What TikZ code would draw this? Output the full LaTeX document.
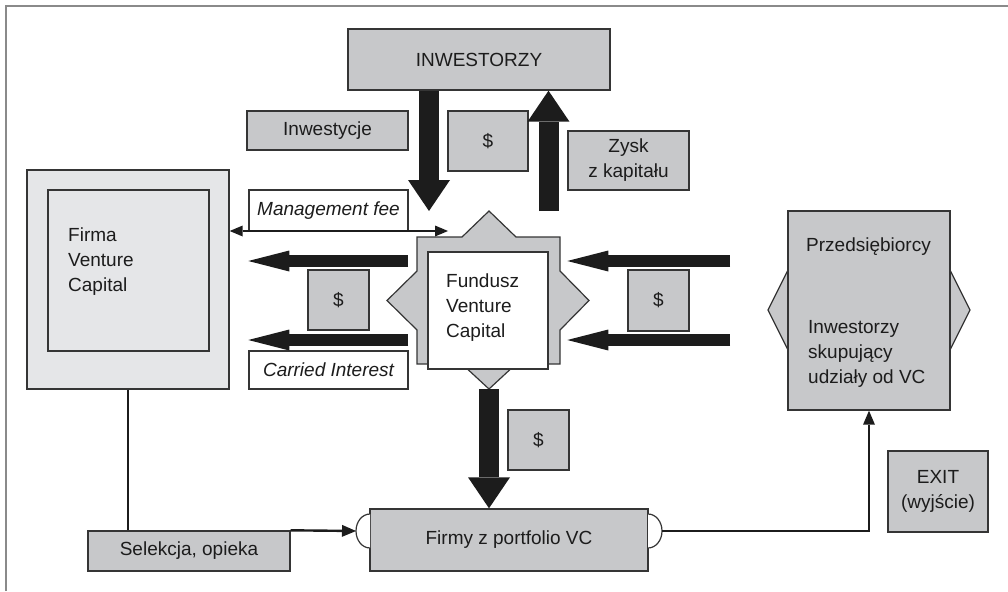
\documentclass[tikz,border=0pt]{standalone}
\usepackage{fontspec}
\setmainfont{Liberation Sans}
\usetikzlibrary{arrows.meta}
\definecolor{boxgray}{HTML}{C7C8CA}
\definecolor{palegray}{HTML}{E5E6E8}
\definecolor{edgecol}{HTML}{353535}
\definecolor{ink}{HTML}{1C1C1C}
\definecolor{framecol}{HTML}{8A8A8A}
\begin{document}
\begin{tikzpicture}[x=1pt,y=-1pt,
  every node/.style={font=\fontsize{19}{25}\selectfont, text=ink},
  gbox/.style={draw=edgecol, line width=1.4pt, fill=boxgray, inner sep=0pt, align=center},
  wbox/.style={draw=edgecol, line width=1.4pt, fill=white, inner sep=0pt, align=center,
               font=\fontsize{19}{25}\selectfont\itshape},
  pbox/.style={draw=edgecol, line width=1.4pt, fill=palegray, inner sep=0pt},
  txt/.style={inner sep=0pt, align=left, anchor=west},
  vthick/.style={draw=ink, line width=20pt, -{Triangle[width=42pt,length=31pt,line width=0pt]}},
  hthick/.style={draw=ink, line width=12.5pt, -{Triangle[width=21pt,length=41pt,line width=0pt]}},
  conn/.style={draw=ink, line width=2.4pt, -{Triangle[width=12pt,length=14pt,line width=0pt]}},
  plainconn/.style={draw=ink, line width=2.4pt},
  bump/.style={draw=edgecol, line width=1.2pt, fill=white}
]
\useasboundingbox (0,0) rectangle (1008,591);
\draw[framecol, line width=2pt] (6,591) -- (6,6) -- (1008,6);

% top
\node[gbox, minimum width=262pt, minimum height=61pt] (inw) at (479,59.5) {INWESTORZY};
\node[gbox, minimum width=161pt, minimum height=39pt] (inwest) at (327.5,130.5) {Inwestycje};
\node[gbox, minimum width=80pt, minimum height=60pt] (dtop) at (488,141) {\$};
\node[gbox, minimum width=121pt, minimum height=59pt] (zysk) at (628.5,160.5) {Zysk\\z kapitału};
\node[wbox, minimum width=159pt, minimum height=41pt] (mgmt) at (328.5,210.5) {Management fee};

% Firma VC
\node[pbox, minimum width=202pt, minimum height=219pt] (firma) at (128,279.5) {};
\node[pbox, minimum width=161pt, minimum height=161pt] (firmain) at (128.5,270.5) {};
\node[txt] (firmatxt) at (68,262) {Firma\\Venture\\Capital};

% left middle
\node[gbox, minimum width=61pt, minimum height=60pt] (dleft) at (338.5,300) {\$};
\node[wbox, minimum width=159pt, minimum height=38pt] (carried) at (328.5,370) {Carried Interest};

% fund star
\draw[draw=edgecol, line width=1.2pt, fill=boxgray]
  (417,237) -- (462,237) -- (489,211) -- (516,237) -- (560,237) -- (560,271)
  -- (589,300.5) -- (560,330) -- (560,364) -- (516,364) -- (489,389) -- (462,364)
  -- (417,364) -- (417,330) -- (387,300.5) -- (417,271) -- cycle;
\coordinate (fundN) at (489,211);
\coordinate (fundS) at (489,389);
\node[draw=edgecol, line width=1.4pt, fill=white, inner sep=0pt, minimum width=120pt, minimum height=117pt] (fund) at (488,310.5) {};
\node[txt] (fundtxt) at (446,307.5) {Fundusz\\Venture\\Capital};

% right side
\node[gbox, minimum width=61pt, minimum height=61pt] (dright) at (658.5,300.5) {\$};
\draw[draw=edgecol, line width=1.2pt, fill=boxgray] (788,270) -- (768,310) -- (788,350) -- cycle;
\draw[draw=edgecol, line width=1.2pt, fill=boxgray] (950,270) -- (970,310) -- (950,350) -- cycle;
\node[gbox, minimum width=162pt, minimum height=199pt] (przed) at (869,310.5) {};
\node[txt] (przedtxt) at (806,247) {Przedsiębiorcy};
\node[txt] (kuptxt) at (808,354) {Inwestorzy\\skupujący\\udziały od VC};

% bottom
\node[gbox, minimum width=61pt, minimum height=60pt] (dbottom) at (538.5,440) {\$};
\node[gbox, minimum width=278pt, minimum height=62pt] (firmy) at (509,540) {Firmy z portfolio VC};
\node[gbox, minimum width=202pt, minimum height=40pt] (selek) at (189,551) {Selekcja, opieka};
\node[gbox, minimum width=100pt, minimum height=81pt] (exit) at (938,491.5) {EXIT\\(wyjście)};
\draw[bump] (370,514) arc[start angle=270, end angle=90, x radius=14, y radius=17];
\draw[bump] (648,514) arc[start angle=270, end angle=450, x radius=14, y radius=17];
\coordinate (bumpL) at (356,531);
\coordinate (bumpR) at (662,531);

% thick arrows
\draw[vthick] ([xshift=-50pt]inw.south) -- ([xshift=-50pt]inw.south |- fundN);
\draw[vthick] ([xshift=69.5pt]inw.south |- fundN) -- ([xshift=69.5pt]inw.south);
\draw[vthick] (fundS) -- (fundS |- firmy.north);
\coordinate (fL1) at (408,261);
\coordinate (fL2) at (408,340);
\coordinate (pR1) at (730,261);
\coordinate (pR2) at (730,340);
\draw[hthick] (fL1) -- (fL1 -| mgmt.west);
\draw[hthick] (fL2) -- (fL2 -| carried.west);
\draw[hthick] (pR1) -- (pR1 -| dright.west) -- ++(-60,0);
\draw[hthick] (pR2) -- (pR2 -| dright.west) -- ++(-60,0);

% thin connectors
\coordinate (mfR) at (448,231);
\draw[draw=ink, line width=2pt, {Triangle[width=11pt,length=13pt,line width=0pt]}-{Triangle[width=11pt,length=13pt,line width=0pt]}]
  (firma.east |- mfR) -- (mfR);
\draw[plainconn] (firma.south) -- (firma.south |- selek.north);
\draw[conn] (selek.north east) -- (bumpL);
\draw[conn] (bumpR) -| (przed.south);
\end{tikzpicture}
\end{document}
